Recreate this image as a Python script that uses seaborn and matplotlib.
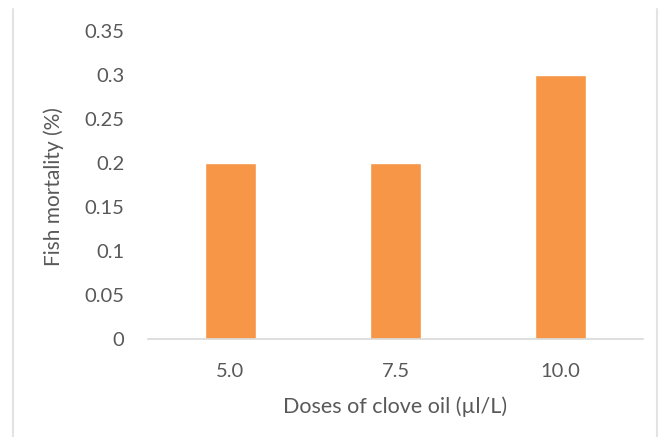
import matplotlib
matplotlib.use("Agg")
import matplotlib.pyplot as plt
from matplotlib.lines import Line2D
import seaborn as sns
import pandas as pd

# Clove oil doses and resulting fish mortality
doses = ["5.0", "7.5", "10.0"]
mortality = [0.2, 0.2, 0.3]
y_ticks = [0, 0.05, 0.1, 0.15, 0.2, 0.25, 0.3, 0.35]
y_tick_labels = ["0", "0.05", "0.1", "0.15", "0.2", "0.25", "0.3", "0.35"]

df = pd.DataFrame({"dose": doses, "mortality": mortality})

sns.set_theme(style="white")
plt.rcParams["font.family"] = ["Lato", "DejaVu Sans"]

text_color = "#595959"
bar_color = "#F79646"

W, H = 662, 437
left_px, right_px, top_px, base_px = 148, 643, 31, 339

fig = plt.figure(figsize=(W / 100, H / 100), dpi=100)
ax = fig.add_axes([left_px / W, 1 - base_px / H,
                   (right_px - left_px) / W, (base_px - top_px) / H])

sns.barplot(data=df, x="dose", y="mortality", color=bar_color, width=0.31,
            saturation=1, ax=ax)

ax.set_xlim(-0.5, 2.5)
ax.set_ylim(0, 0.35)
ax.set_yticks(y_ticks)
ax.set_yticklabels(y_tick_labels)
ax.tick_params(axis="both", length=0, labelsize=14.5, colors=text_color)
ax.tick_params(axis="y", pad=17)
ax.tick_params(axis="x", pad=17)

for side in ["top", "right", "left"]:
    ax.spines[side].set_color("none")
ax.spines["bottom"].set_color("#D9D9D9")
ax.spines["bottom"].set_linewidth(1.2)

ax.set_xlabel("Doses of clove oil (µl/L)", fontsize=15.5, color=text_color)
ax.xaxis.set_label_coords(0.5, -0.188)
ax.set_ylabel("")

# y-axis title placed in figure pixels, just left of the tick labels
fig.text(54 / W, 1 - 187 / H, "Fish mortality (%)", fontsize=15,
         color=text_color, rotation=90, rotation_mode="anchor",
         ha="center", va="center")

# Chart frame edges
for x in (12.5 / W, 656.5 / W):
    fig.add_artist(Line2D([x, x], [0, 1 - 9 / H], transform=fig.transFigure,
                          color="#E3E3E3", linewidth=1.5))

fig.savefig("out.png", dpi=100, facecolor="white")
